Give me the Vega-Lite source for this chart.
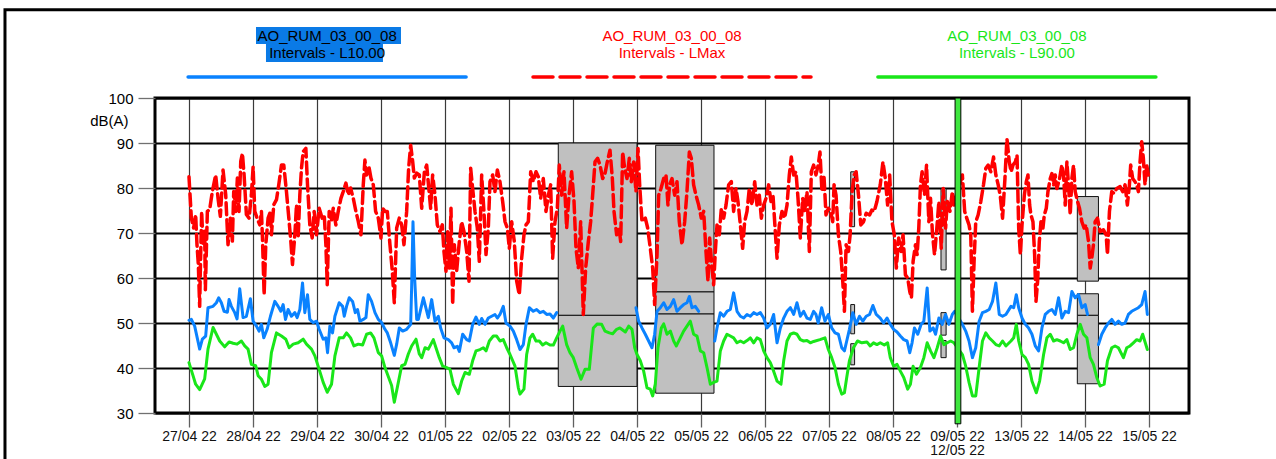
{
"$schema": "https://vega.github.io/schema/vega-lite/v6.json",
"width": 1034, "height": 315,
"autosize": {"type": "none"},
"padding": {"left": 155, "top": 98, "right": 87, "bottom": 46},
"background": "white",
"config": {"view": {"stroke": "black", "strokeWidth": 3}, "font": "Liberation Sans",
"axisX": {
"grid": true, "gridColor": "#3a3a3a", "gridWidth": 1.2, "tickColor": "#606060", "tickWidth": 1.3, "tickSize": 14, "domain": false,
"labelFont": "Liberation Sans", "labelFontSize": 14, "labelColor": "#111111", "labelPadding": 2, "labelLineHeight": 14,
"labelOverlap": false, "labelFlush": false, "labelBound": false},
"axisY": {
"grid": true, "gridColor": "black", "gridWidth": 1.8, "tickCount": 14,
"tickColor": "#707070", "tickWidth": 1.3, "tickSize": 17,
"domain": false, "labelFont": "Liberation Sans", "labelFontSize": 15, "labelColor": "black", "labelPadding": 5,
"labelOverlap": false, "labelFlush": false,
"titleFont": "Liberation Sans", "titleFontSize": 15, "titleFontWeight": "normal", "titleColor": "black",
"titleAngle": 0, "titleAlign": "right", "titleBaseline": "middle", "titleX": -27, "titleY": 22}
},
"datasets": {
"legend": [
{"series": "L10", "name": "AO_RUM_03_00_08", "desc": "Intervals - L10.00"},
{"series": "LMax", "name": "AO_RUM_03_00_08", "desc": "Intervals - LMax"},
{"series": "L90", "name": "AO_RUM_03_00_08", "desc": "Intervals - L90.00"}
],
"boxes": [
{"t0": 5.77, "t1": 7.0, "lo": 51.7, "hi": 90.0},
{"t0": 5.77, "t1": 7.0, "lo": 35.9, "hi": 51.7},
{"t0": 7.292, "t1": 8.203, "lo": 56.9, "hi": 89.5},
{"t0": 7.292, "t1": 8.203, "lo": 52.0, "hi": 56.9},
{"t0": 7.292, "t1": 8.203, "lo": 34.4, "hi": 52.0},
{"t0": 10.34, "t1": 10.40, "lo": 71.4, "hi": 83.6},
{"t0": 10.34, "t1": 10.40, "lo": 47.6, "hi": 54.1},
{"t0": 10.34, "t1": 10.40, "lo": 40.7, "hi": 45.4},
{"t0": 11.75, "t1": 11.83, "lo": 61.8, "hi": 79.9},
{"t0": 11.75, "t1": 11.83, "lo": 47.3, "hi": 52.3},
{"t0": 11.75, "t1": 11.83, "lo": 42.3, "hi": 46.1},
{"t0": 13.88, "t1": 14.21, "lo": 59.3, "hi": 78.1},
{"t0": 13.88, "t1": 14.21, "lo": 51.7, "hi": 56.5},
{"t0": 13.88, "t1": 14.21, "lo": 36.5, "hi": 51.7}
],
"l10": [
{"t":0,"v":50.6,"seg":1},{"t":0.037,"v":50.8,"seg":1},{"t":0.089,"v":49.3,"seg":1},{"t":0.167,"v":44.2,"seg":1},{"t":0.209,"v":46.4,"seg":1},{"t":0.261,"v":47.1,"seg":1},{"t":0.297,"v":53.4,"seg":1},{"t":0.376,"v":53.7,"seg":1},{"t":0.428,"v":54.5,"seg":1},{"t":0.464,"v":55.6,"seg":1},{"t":0.506,"v":54.5,"seg":1},{"t":0.548,"v":52.6,"seg":1},{"t":0.6,"v":52.4,"seg":1},{"t":0.626,"v":55.2,"seg":1},{"t":0.662,"v":53.7,"seg":1},{"t":0.715,"v":52.3,"seg":1},{"t":0.751,"v":50.9,"seg":1},{"t":0.793,"v":57.6,"seg":1},{"t":0.845,"v":51.2,"seg":1},{"t":0.897,"v":51.5,"seg":1},{"t":0.96,"v":55.4,"seg":1},{"t":1.002,"v":50.4,"seg":1},{"t":1.054,"v":49.3,"seg":1},{"t":1.095,"v":48.2,"seg":1},{"t":1.132,"v":49.7,"seg":1},{"t":1.168,"v":46.7,"seg":1},{"t":1.221,"v":48.6,"seg":1},{"t":1.273,"v":51.5,"seg":1},{"t":1.341,"v":54.8,"seg":1},{"t":1.393,"v":53.7,"seg":1},{"t":1.435,"v":52.6,"seg":1},{"t":1.471,"v":54.1,"seg":1},{"t":1.508,"v":50.8,"seg":1},{"t":1.549,"v":53.0,"seg":1},{"t":1.601,"v":51.5,"seg":1},{"t":1.654,"v":52.3,"seg":1},{"t":1.69,"v":51.2,"seg":1},{"t":1.732,"v":53.0,"seg":1},{"t":1.774,"v":58.9,"seg":1},{"t":1.81,"v":52.3,"seg":1},{"t":1.852,"v":56.3,"seg":1},{"t":1.888,"v":50.8,"seg":1},{"t":1.941,"v":50.1,"seg":1},{"t":1.993,"v":50.4,"seg":1},{"t":2.034,"v":48.6,"seg":1},{"t":2.097,"v":46.4,"seg":1},{"t":2.139,"v":46.7,"seg":1},{"t":2.165,"v":43.4,"seg":1},{"t":2.201,"v":49.3,"seg":1},{"t":2.243,"v":47.8,"seg":1},{"t":2.28,"v":51.5,"seg":1},{"t":2.347,"v":54.5,"seg":1},{"t":2.4,"v":53.7,"seg":1},{"t":2.426,"v":51.5,"seg":1},{"t":2.462,"v":53.7,"seg":1},{"t":2.504,"v":55.6,"seg":1},{"t":2.556,"v":54.8,"seg":1},{"t":2.598,"v":52.3,"seg":1},{"t":2.634,"v":53.0,"seg":1},{"t":2.671,"v":50.4,"seg":1},{"t":2.723,"v":50.8,"seg":1},{"t":2.765,"v":51.2,"seg":1},{"t":2.801,"v":56.3,"seg":1},{"t":2.853,"v":54.8,"seg":1},{"t":2.906,"v":52.3,"seg":1},{"t":2.958,"v":50.8,"seg":1},{"t":3.01,"v":50.1,"seg":1},{"t":3.062,"v":48.6,"seg":1},{"t":3.099,"v":47.8,"seg":1},{"t":3.151,"v":45.6,"seg":1},{"t":3.208,"v":42.8,"seg":1},{"t":3.245,"v":45.3,"seg":1},{"t":3.286,"v":48.9,"seg":1},{"t":3.339,"v":48.2,"seg":1},{"t":3.401,"v":48.6,"seg":1},{"t":3.464,"v":49.7,"seg":1},{"t":3.479,"v":58.0,"seg":1},{"t":3.5,"v":72.5,"seg":1},{"t":3.526,"v":60.0,"seg":1},{"t":3.558,"v":50.8,"seg":1},{"t":3.584,"v":50.8,"seg":1},{"t":3.662,"v":55.6,"seg":1},{"t":3.74,"v":51.2,"seg":1},{"t":3.792,"v":55.2,"seg":1},{"t":3.844,"v":50.4,"seg":1},{"t":3.896,"v":51.5,"seg":1},{"t":3.932,"v":48.9,"seg":1},{"t":3.984,"v":46.7,"seg":1},{"t":4.052,"v":46.3,"seg":1},{"t":4.104,"v":45.6,"seg":1},{"t":4.141,"v":44.5,"seg":1},{"t":4.193,"v":44.8,"seg":1},{"t":4.224,"v":43.7,"seg":1},{"t":4.276,"v":47.5,"seg":1},{"t":4.339,"v":46.3,"seg":1},{"t":4.38,"v":46.0,"seg":1},{"t":4.432,"v":49.7,"seg":1},{"t":4.484,"v":51.3,"seg":1},{"t":4.536,"v":49.7,"seg":1},{"t":4.573,"v":51.0,"seg":1},{"t":4.625,"v":49.7,"seg":1},{"t":4.677,"v":51.1,"seg":1},{"t":4.729,"v":51.5,"seg":1},{"t":4.781,"v":51.9,"seg":1},{"t":4.818,"v":51.1,"seg":1},{"t":4.859,"v":51.9,"seg":1},{"t":4.911,"v":53.7,"seg":1},{"t":4.953,"v":50.0,"seg":1},{"t":5.016,"v":49.3,"seg":1},{"t":5.068,"v":48.2,"seg":1},{"t":5.12,"v":46.3,"seg":1},{"t":5.172,"v":44.1,"seg":1},{"t":5.224,"v":45.2,"seg":1},{"t":5.266,"v":49.7,"seg":1},{"t":5.318,"v":53.4,"seg":1},{"t":5.38,"v":52.6,"seg":1},{"t":5.432,"v":53.0,"seg":1},{"t":5.484,"v":52.3,"seg":1},{"t":5.536,"v":52.6,"seg":1},{"t":5.589,"v":51.9,"seg":1},{"t":5.641,"v":52.0,"seg":1},{"t":5.693,"v":51.1,"seg":1},{"t":5.745,"v":52.3,"seg":1},
{"t":6.984,"v":53.4,"seg":2},{"t":7.026,"v":50.4,"seg":2},{"t":7.078,"v":48.9,"seg":2},{"t":7.13,"v":47.5,"seg":2},{"t":7.182,"v":46.0,"seg":2},{"t":7.234,"v":44.5,"seg":2},{"t":7.276,"v":47.5,"seg":2},{"t":7.313,"v":52.6,"seg":2},{"t":7.365,"v":53.4,"seg":2},{"t":7.417,"v":54.5,"seg":2},{"t":7.469,"v":53.0,"seg":2},{"t":7.521,"v":53.7,"seg":2},{"t":7.573,"v":55.2,"seg":2},{"t":7.625,"v":52.6,"seg":2},{"t":7.677,"v":53.4,"seg":2},{"t":7.729,"v":54.1,"seg":2},{"t":7.781,"v":54.5,"seg":2},{"t":7.818,"v":55.9,"seg":2},{"t":7.859,"v":53.4,"seg":2},{"t":7.911,"v":53.7,"seg":2},{"t":7.964,"v":52.6,"seg":2},
{"t":8.214,"v":46.0,"seg":3},{"t":8.25,"v":48.9,"seg":3},{"t":8.302,"v":52.3,"seg":3},{"t":8.354,"v":51.5,"seg":3},{"t":8.406,"v":52.6,"seg":3},{"t":8.458,"v":53.0,"seg":3},{"t":8.51,"v":56.7,"seg":3},{"t":8.563,"v":52.6,"seg":3},{"t":8.615,"v":51.5,"seg":3},{"t":8.667,"v":51.1,"seg":3},{"t":8.719,"v":51.9,"seg":3},{"t":8.771,"v":51.5,"seg":3},{"t":8.823,"v":52.3,"seg":3},{"t":8.875,"v":51.9,"seg":3},{"t":8.927,"v":52.3,"seg":3},{"t":8.979,"v":51.1,"seg":3},{"t":9.031,"v":48.9,"seg":3},{"t":9.083,"v":49.7,"seg":3},{"t":9.135,"v":51.9,"seg":3},{"t":9.188,"v":45.6,"seg":3},{"t":9.24,"v":48.9,"seg":3},{"t":9.292,"v":51.1,"seg":3},{"t":9.344,"v":52.6,"seg":3},{"t":9.396,"v":53.4,"seg":3},{"t":9.448,"v":51.9,"seg":3},{"t":9.5,"v":54.5,"seg":3},{"t":9.552,"v":51.5,"seg":3},{"t":9.604,"v":52.6,"seg":3},{"t":9.656,"v":51.1,"seg":3},{"t":9.708,"v":50.8,"seg":3},{"t":9.76,"v":52.6,"seg":3},{"t":9.796,"v":51.9,"seg":3},{"t":9.832,"v":50.0,"seg":3},{"t":9.885,"v":53.4,"seg":3},{"t":9.937,"v":50.4,"seg":3},{"t":9.99,"v":51.9,"seg":3},{"t":10.042,"v":48.9,"seg":3},{"t":10.094,"v":47.8,"seg":3},{"t":10.147,"v":47.5,"seg":3},{"t":10.199,"v":44.5,"seg":3},{"t":10.241,"v":43.8,"seg":3},{"t":10.277,"v":46.0,"seg":3},{"t":10.319,"v":48.6,"seg":3},{"t":10.372,"v":52.3,"seg":3},{"t":10.424,"v":49.7,"seg":3},{"t":10.476,"v":51.5,"seg":3},{"t":10.529,"v":50.4,"seg":3},{"t":10.581,"v":51.5,"seg":3},{"t":10.634,"v":51.9,"seg":3},{"t":10.686,"v":53.9,"seg":3},{"t":10.738,"v":51.9,"seg":3},{"t":10.801,"v":51.1,"seg":3},{"t":10.853,"v":50.0,"seg":3},{"t":10.906,"v":51.1,"seg":3},{"t":10.958,"v":49.7,"seg":3},{"t":11.01,"v":48.6,"seg":3},{"t":11.063,"v":48.0,"seg":3},{"t":11.115,"v":47.1,"seg":3},{"t":11.168,"v":46.3,"seg":3},{"t":11.22,"v":46.0,"seg":3},{"t":11.262,"v":43.4,"seg":3},{"t":11.298,"v":45.6,"seg":3},{"t":11.335,"v":48.9,"seg":3},{"t":11.387,"v":47.5,"seg":3},{"t":11.44,"v":49.7,"seg":3},{"t":11.482,"v":50.4,"seg":3},{"t":11.534,"v":57.8,"seg":3},{"t":11.576,"v":48.2,"seg":3},{"t":11.628,"v":48.9,"seg":3},{"t":11.665,"v":47.5,"seg":3},{"t":11.717,"v":51.1,"seg":3},{"t":11.77,"v":49.7,"seg":3},{"t":11.822,"v":51.9,"seg":3},{"t":11.874,"v":49.7,"seg":3},{"t":11.927,"v":51.9,"seg":3},{"t":11.963,"v":52.6,"seg":3},{"t":12.084,"v":49.7,"seg":3},{"t":12.136,"v":48.2,"seg":3},{"t":12.188,"v":46.0,"seg":3},{"t":12.241,"v":42.3,"seg":3},{"t":12.293,"v":44.5,"seg":3},{"t":12.346,"v":50.4,"seg":3},{"t":12.398,"v":52.3,"seg":3},{"t":12.45,"v":52.6,"seg":3},{"t":12.503,"v":53.0,"seg":3},{"t":12.555,"v":54.8,"seg":3},{"t":12.607,"v":58.9,"seg":3},{"t":12.66,"v":51.9,"seg":3},{"t":12.712,"v":51.5,"seg":3},{"t":12.764,"v":51.9,"seg":3},{"t":12.843,"v":53.7,"seg":3},{"t":12.886,"v":53.4,"seg":3},{"t":12.927,"v":56.3,"seg":3},{"t":12.964,"v":53.4,"seg":3},{"t":13.016,"v":51.1,"seg":3},{"t":13.068,"v":49.7,"seg":3},{"t":13.119,"v":48.9,"seg":3},{"t":13.171,"v":47.5,"seg":3},{"t":13.223,"v":44.9,"seg":3},{"t":13.275,"v":43.8,"seg":3},{"t":13.327,"v":48.9,"seg":3},{"t":13.379,"v":51.9,"seg":3},{"t":13.431,"v":52.6,"seg":3},{"t":13.483,"v":53.0,"seg":3},{"t":13.535,"v":51.9,"seg":3},{"t":13.587,"v":55.6,"seg":3},{"t":13.639,"v":51.1,"seg":3},{"t":13.691,"v":52.6,"seg":3},{"t":13.743,"v":52.3,"seg":3},{"t":13.795,"v":57.0,"seg":3},{"t":13.847,"v":55.6,"seg":3},{"t":13.899,"v":56.3,"seg":3},{"t":13.951,"v":53.4,"seg":3},{"t":14.003,"v":54.1,"seg":3},{"t":14.039,"v":51.9,"seg":3},
{"t":14.21,"v":45.2,"seg":4},{"t":14.262,"v":47.5,"seg":4},{"t":14.314,"v":48.9,"seg":4},{"t":14.366,"v":50.0,"seg":4},{"t":14.418,"v":50.8,"seg":4},{"t":14.47,"v":49.7,"seg":4},{"t":14.522,"v":50.4,"seg":4},{"t":14.574,"v":49.7,"seg":4},{"t":14.626,"v":50.0,"seg":4},{"t":14.678,"v":51.9,"seg":4},{"t":14.73,"v":52.6,"seg":4},{"t":14.782,"v":53.0,"seg":4},{"t":14.834,"v":53.4,"seg":4},{"t":14.886,"v":54.1,"seg":4},{"t":14.938,"v":57.0,"seg":4},{"t":14.974,"v":51.9,"seg":4}
],
"l90": [
{"t":0,"v":41.2},{"t":0.063,"v":38.3},{"t":0.104,"v":36.4},{"t":0.167,"v":35.2},{"t":0.245,"v":37.6},{"t":0.297,"v":44.2},{"t":0.376,"v":49.0},{"t":0.428,"v":47.5},{"t":0.48,"v":46.0},{"t":0.558,"v":44.7},{"t":0.626,"v":45.8},{"t":0.689,"v":45.5},{"t":0.751,"v":45.3},{"t":0.819,"v":46.0},{"t":0.871,"v":44.9},{"t":0.923,"v":44.2},{"t":0.975,"v":40.8},{"t":1.043,"v":40.5},{"t":1.08,"v":38.3},{"t":1.132,"v":37.5},{"t":1.184,"v":35.9},{"t":1.236,"v":36.4},{"t":1.288,"v":43.4},{"t":1.367,"v":47.8},{"t":1.445,"v":47.1},{"t":1.513,"v":46.4},{"t":1.565,"v":44.5},{"t":1.628,"v":45.3},{"t":1.706,"v":45.6},{"t":1.784,"v":46.4},{"t":1.836,"v":45.3},{"t":1.914,"v":44.2},{"t":1.967,"v":42.7},{"t":2.034,"v":39.7},{"t":2.097,"v":36.8},{"t":2.16,"v":34.6},{"t":2.227,"v":36.4},{"t":2.28,"v":42.7},{"t":2.347,"v":46.7},{"t":2.41,"v":46.7},{"t":2.462,"v":47.8},{"t":2.525,"v":46.7},{"t":2.577,"v":44.9},{"t":2.645,"v":45.3},{"t":2.713,"v":45.1},{"t":2.775,"v":47.5},{"t":2.838,"v":47.8},{"t":2.89,"v":46.7},{"t":2.958,"v":43.4},{"t":3.01,"v":42.7},{"t":3.062,"v":40.1},{"t":3.13,"v":37.5},{"t":3.166,"v":36.1},{"t":3.208,"v":32.4},{"t":3.271,"v":36.8},{"t":3.323,"v":40.5},{"t":3.375,"v":40.8},{"t":3.427,"v":43.1},{"t":3.479,"v":44.9},{"t":3.547,"v":46.4},{"t":3.599,"v":43.1},{"t":3.636,"v":42.3},{"t":3.688,"v":44.5},{"t":3.74,"v":44.2},{"t":3.818,"v":46.3},{"t":3.859,"v":44.5},{"t":3.911,"v":42.3},{"t":3.964,"v":40.4},{"t":4.026,"v":40.1},{"t":4.078,"v":39.7},{"t":4.13,"v":36.4},{"t":4.208,"v":34.3},{"t":4.26,"v":37.1},{"t":4.313,"v":39.0},{"t":4.38,"v":38.6},{"t":4.432,"v":41.6},{"t":4.484,"v":43.8},{"t":4.547,"v":44.1},{"t":4.599,"v":44.5},{"t":4.641,"v":43.8},{"t":4.693,"v":46.0},{"t":4.755,"v":47.1},{"t":4.807,"v":47.1},{"t":4.859,"v":46.0},{"t":4.911,"v":46.3},{"t":4.964,"v":44.5},{"t":5.016,"v":43.0},{"t":5.094,"v":40.4},{"t":5.146,"v":35.6},{"t":5.172,"v":34.2},{"t":5.234,"v":35.3},{"t":5.276,"v":43.0},{"t":5.328,"v":46.7},{"t":5.37,"v":47.5},{"t":5.422,"v":46.0},{"t":5.474,"v":46.0},{"t":5.526,"v":45.1},{"t":5.578,"v":45.6},{"t":5.641,"v":45.1},{"t":5.693,"v":45.1},{"t":5.745,"v":46.7},{"t":5.797,"v":48.2},{"t":5.839,"v":49.3},{"t":5.901,"v":45.2},{"t":5.953,"v":43.4},{"t":6.005,"v":42.3},{"t":6.057,"v":40.1},{"t":6.125,"v":37.5},{"t":6.188,"v":39.7},{"t":6.255,"v":39.7},{"t":6.318,"v":48.9},{"t":6.38,"v":49.8},{"t":6.448,"v":49.7},{"t":6.5,"v":48.2},{"t":6.568,"v":47.8},{"t":6.62,"v":47.6},{"t":6.682,"v":48.6},{"t":6.734,"v":48.9},{"t":6.818,"v":48.0},{"t":6.87,"v":49.3},{"t":6.922,"v":48.6},{"t":6.964,"v":44.5},{"t":7.0,"v":43.0},{"t":7.052,"v":41.6},{"t":7.104,"v":39.3},{"t":7.156,"v":35.6},{"t":7.208,"v":35.3},{"t":7.245,"v":33.8},{"t":7.286,"v":36.4},{"t":7.328,"v":44.5},{"t":7.38,"v":48.9},{"t":7.417,"v":49.8},{"t":7.469,"v":47.5},{"t":7.521,"v":48.2},{"t":7.573,"v":46.0},{"t":7.615,"v":44.9},{"t":7.677,"v":46.7},{"t":7.729,"v":48.2},{"t":7.781,"v":49.3},{"t":7.833,"v":50.4},{"t":7.885,"v":47.5},{"t":7.938,"v":47.1},{"t":7.99,"v":43.8},{"t":8.042,"v":43.4},{"t":8.094,"v":40.1},{"t":8.146,"v":36.4},{"t":8.198,"v":36.8},{"t":8.25,"v":37.1},{"t":8.302,"v":43.8},{"t":8.354,"v":46.0},{"t":8.406,"v":47.5},{"t":8.458,"v":47.1},{"t":8.51,"v":46.7},{"t":8.563,"v":45.6},{"t":8.615,"v":46.0},{"t":8.667,"v":45.6},{"t":8.719,"v":46.1},{"t":8.771,"v":46.7},{"t":8.823,"v":45.6},{"t":8.875,"v":46.7},{"t":8.927,"v":46.3},{"t":8.979,"v":43.8},{"t":9.031,"v":42.3},{"t":9.083,"v":41.2},{"t":9.135,"v":39.3},{"t":9.188,"v":37.1},{"t":9.25,"v":36.4},{"t":9.292,"v":41.6},{"t":9.344,"v":46.0},{"t":9.396,"v":47.5},{"t":9.448,"v":47.8},{"t":9.5,"v":47.5},{"t":9.552,"v":46.3},{"t":9.604,"v":46.0},{"t":9.656,"v":46.1},{"t":9.708,"v":45.6},{"t":9.76,"v":45.9},{"t":9.859,"v":46.3},{"t":9.937,"v":46.7},{"t":9.99,"v":44.1},{"t":10.042,"v":42.3},{"t":10.094,"v":40.1},{"t":10.147,"v":36.4},{"t":10.199,"v":34.2},{"t":10.241,"v":34.5},{"t":10.277,"v":37.9},{"t":10.319,"v":41.6},{"t":10.382,"v":44.5},{"t":10.445,"v":46.0},{"t":10.513,"v":45.6},{"t":10.592,"v":45.8},{"t":10.644,"v":44.9},{"t":10.696,"v":45.6},{"t":10.749,"v":45.2},{"t":10.801,"v":45.6},{"t":10.864,"v":45.1},{"t":10.916,"v":45.6},{"t":10.958,"v":42.3},{"t":11.01,"v":40.4},{"t":11.063,"v":40.8},{"t":11.115,"v":39.3},{"t":11.168,"v":37.9},{"t":11.23,"v":35.3},{"t":11.272,"v":36.4},{"t":11.314,"v":40.4},{"t":11.366,"v":38.6},{"t":11.429,"v":40.1},{"t":11.482,"v":42.3},{"t":11.534,"v":45.6},{"t":11.586,"v":43.8},{"t":11.639,"v":42.3},{"t":11.691,"v":44.5},{"t":11.743,"v":47.1},{"t":11.796,"v":45.2},{"t":11.848,"v":45.6},{"t":11.901,"v":46.0},{"t":11.953,"v":45.6},{"t":12.084,"v":43.0},{"t":12.136,"v":40.4},{"t":12.188,"v":36.8},{"t":12.241,"v":33.8},{"t":12.293,"v":33.8},{"t":12.346,"v":40.1},{"t":12.398,"v":46.0},{"t":12.45,"v":47.8},{"t":12.503,"v":46.7},{"t":12.555,"v":46.0},{"t":12.607,"v":45.2},{"t":12.66,"v":44.9},{"t":12.712,"v":46.0},{"t":12.764,"v":44.9},{"t":12.843,"v":46.0},{"t":12.886,"v":46.7},{"t":12.927,"v":49.7},{"t":12.964,"v":46.0},{"t":13.016,"v":43.0},{"t":13.068,"v":42.3},{"t":13.119,"v":40.8},{"t":13.171,"v":37.1},{"t":13.239,"v":34.5},{"t":13.291,"v":37.1},{"t":13.353,"v":43.0},{"t":13.405,"v":46.7},{"t":13.457,"v":47.5},{"t":13.509,"v":46.0},{"t":13.561,"v":46.3},{"t":13.613,"v":46.0},{"t":13.665,"v":45.6},{"t":13.717,"v":46.3},{"t":13.769,"v":44.1},{"t":13.821,"v":44.5},{"t":13.873,"v":47.5},{"t":13.925,"v":49.7},{"t":13.977,"v":47.5},{"t":14.029,"v":46.7},{"t":14.081,"v":42.3},{"t":14.132,"v":40.8},{"t":14.184,"v":37.9},{"t":14.236,"v":36.0},{"t":14.299,"v":36.4},{"t":14.351,"v":41.6},{"t":14.418,"v":44.5},{"t":14.47,"v":44.9},{"t":14.522,"v":44.5},{"t":14.6,"v":42.3},{"t":14.652,"v":44.5},{"t":14.704,"v":44.9},{"t":14.756,"v":45.6},{"t":14.808,"v":46.3},{"t":14.86,"v":46.0},{"t":14.901,"v":47.5},{"t":14.974,"v":44.1}
],
"lmax": [
{"t":0,"v":82.5},{"t":0.037,"v":73.3},{"t":0.073,"v":71.1},{"t":0.104,"v":74.1},{"t":0.125,"v":67.4},{"t":0.146,"v":63.0},{"t":0.167,"v":53.7},{"t":0.177,"v":61.5},{"t":0.198,"v":74.8},{"t":0.219,"v":67.4},{"t":0.245,"v":70.4},{"t":0.256,"v":57.4},{"t":0.287,"v":74.8},{"t":0.323,"v":75.2},{"t":0.365,"v":79.2},{"t":0.417,"v":82.9},{"t":0.454,"v":77.7},{"t":0.49,"v":73.7},{"t":0.532,"v":84.0},{"t":0.574,"v":78.5},{"t":0.61,"v":67.4},{"t":0.647,"v":73.3},{"t":0.678,"v":68.2},{"t":0.699,"v":79.2},{"t":0.73,"v":74.8},{"t":0.756,"v":82.2},{"t":0.782,"v":74.8},{"t":0.809,"v":85.9},{"t":0.835,"v":87.7},{"t":0.861,"v":82.9},{"t":0.897,"v":74.1},{"t":0.939,"v":73.3},{"t":0.975,"v":78.5},{"t":1.002,"v":84.7},{"t":1.028,"v":74.8},{"t":1.064,"v":73.3},{"t":1.106,"v":71.8},{"t":1.132,"v":74.8},{"t":1.148,"v":68.9},{"t":1.174,"v":56.3},{"t":1.2,"v":67.4},{"t":1.236,"v":73.3},{"t":1.273,"v":74.8},{"t":1.288,"v":69.6},{"t":1.325,"v":76.3},{"t":1.367,"v":77.4},{"t":1.403,"v":80.7},{"t":1.445,"v":85.1},{"t":1.481,"v":85.1},{"t":1.523,"v":79.2},{"t":1.56,"v":73.3},{"t":1.591,"v":68.2},{"t":1.617,"v":63.0},{"t":1.654,"v":69.6},{"t":1.68,"v":76.3},{"t":1.706,"v":68.9},{"t":1.732,"v":78.5},{"t":1.758,"v":84.4},{"t":1.784,"v":88.1},{"t":1.826,"v":88.8},{"t":1.852,"v":80.7},{"t":1.888,"v":71.8},{"t":1.925,"v":68.9},{"t":1.956,"v":74.8},{"t":1.993,"v":69.6},{"t":2.034,"v":75.5},{"t":2.081,"v":73.3},{"t":2.113,"v":74.1},{"t":2.139,"v":67.4},{"t":2.16,"v":58.5},{"t":2.191,"v":74.8},{"t":2.227,"v":72.6},{"t":2.254,"v":75.5},{"t":2.295,"v":71.8},{"t":2.332,"v":74.8},{"t":2.374,"v":77.7},{"t":2.41,"v":79.2},{"t":2.452,"v":81.1},{"t":2.488,"v":78.5},{"t":2.525,"v":80.0},{"t":2.567,"v":77.7},{"t":2.608,"v":74.8},{"t":2.645,"v":72.6},{"t":2.687,"v":69.6},{"t":2.723,"v":80.7},{"t":2.749,"v":86.2},{"t":2.775,"v":82.9},{"t":2.812,"v":84.7},{"t":2.843,"v":82.2},{"t":2.88,"v":80.7},{"t":2.916,"v":74.8},{"t":2.958,"v":73.3},{"t":3.0,"v":68.9},{"t":3.026,"v":75.5},{"t":3.062,"v":74.8},{"t":3.099,"v":74.8},{"t":3.14,"v":67.4},{"t":3.177,"v":61.5},{"t":3.208,"v":54.5},{"t":3.245,"v":71.1},{"t":3.286,"v":73.3},{"t":3.323,"v":71.8},{"t":3.359,"v":67.4},{"t":3.401,"v":74.8},{"t":3.432,"v":84.4},{"t":3.464,"v":89.5},{"t":3.495,"v":85.9},{"t":3.521,"v":82.2},{"t":3.558,"v":83.3},{"t":3.599,"v":82.9},{"t":3.636,"v":75.5},{"t":3.678,"v":83.6},{"t":3.714,"v":85.1},{"t":3.756,"v":78.5},{"t":3.776,"v":75.5},{"t":3.807,"v":82.9},{"t":3.844,"v":78.4},{"t":3.88,"v":71.8},{"t":3.922,"v":70.3},{"t":3.958,"v":71.8},{"t":3.984,"v":65.9},{"t":4.016,"v":61.5},{"t":4.042,"v":70.3},{"t":4.068,"v":62.2},{"t":4.094,"v":75.5},{"t":4.12,"v":54.1},{"t":4.146,"v":67.4},{"t":4.182,"v":61.5},{"t":4.224,"v":68.1},{"t":4.26,"v":72.5},{"t":4.297,"v":70.3},{"t":4.339,"v":65.9},{"t":4.375,"v":59.3},{"t":4.401,"v":84.4},{"t":4.432,"v":79.9},{"t":4.469,"v":74.8},{"t":4.505,"v":71.1},{"t":4.536,"v":63.7},{"t":4.573,"v":82.9},{"t":4.609,"v":74.8},{"t":4.641,"v":65.2},{"t":4.677,"v":71.1},{"t":4.703,"v":81.4},{"t":4.745,"v":82.9},{"t":4.781,"v":79.2},{"t":4.818,"v":84.0},{"t":4.859,"v":81.4},{"t":4.901,"v":77.0},{"t":4.938,"v":72.5},{"t":4.974,"v":71.1},{"t":5.005,"v":66.6},{"t":5.042,"v":72.5},{"t":5.083,"v":68.1},{"t":5.12,"v":59.3},{"t":5.161,"v":56.3},{"t":5.198,"v":64.4},{"t":5.234,"v":69.6},{"t":5.266,"v":71.8},{"t":5.302,"v":72.5},{"t":5.339,"v":83.6},{"t":5.38,"v":81.4},{"t":5.422,"v":83.6},{"t":5.458,"v":82.5},{"t":5.495,"v":77.7},{"t":5.536,"v":82.1},{"t":5.578,"v":74.8},{"t":5.615,"v":78.4},{"t":5.651,"v":80.7},{"t":5.682,"v":64.4},{"t":5.719,"v":72.5},{"t":5.755,"v":75.5},{"t":5.786,"v":85.1},{"t":5.823,"v":78.4},{"t":5.859,"v":83.6},{"t":5.901,"v":71.1},{"t":5.938,"v":78.4},{"t":5.979,"v":83.6},{"t":6.016,"v":77.0},{"t":6.047,"v":66.6},{"t":6.083,"v":62.2},{"t":6.12,"v":72.5},{"t":6.161,"v":51.9},{"t":6.198,"v":62.2},{"t":6.24,"v":68.1},{"t":6.276,"v":72.5},{"t":6.307,"v":78.4},{"t":6.344,"v":85.8},{"t":6.385,"v":86.6},{"t":6.422,"v":85.1},{"t":6.464,"v":82.1},{"t":6.5,"v":83.2},{"t":6.536,"v":85.8},{"t":6.578,"v":88.4},{"t":6.615,"v":82.1},{"t":6.641,"v":74.8},{"t":6.682,"v":69.6},{"t":6.72,"v":71.1},{"t":6.745,"v":68.1},{"t":6.776,"v":88.0},{"t":6.807,"v":84.4},{"t":6.844,"v":82.1},{"t":6.88,"v":86.6},{"t":6.911,"v":81.4},{"t":6.948,"v":85.8},{"t":6.984,"v":79.2},{"t":7.016,"v":88.8},{"t":7.042,"v":80.7},{"t":7.078,"v":72.5},{"t":7.13,"v":73.3},{"t":7.167,"v":71.1},{"t":7.208,"v":66.6},{"t":7.245,"v":62.2},{"t":7.276,"v":54.1},{"t":7.313,"v":65.2},{"t":7.339,"v":78.4},{"t":7.375,"v":79.9},{"t":7.417,"v":82.1},{"t":7.453,"v":82.9},{"t":7.484,"v":76.2},{"t":7.51,"v":80.7},{"t":7.547,"v":82.1},{"t":7.589,"v":78.4},{"t":7.625,"v":81.4},{"t":7.661,"v":72.5},{"t":7.703,"v":67.4},{"t":7.745,"v":72.5},{"t":7.781,"v":79.2},{"t":7.818,"v":88.0},{"t":7.849,"v":86.6},{"t":7.885,"v":80.7},{"t":7.922,"v":78.4},{"t":7.964,"v":76.2},{"t":8.005,"v":73.3},{"t":8.042,"v":74.8},{"t":8.078,"v":65.9},{"t":8.109,"v":59.3},{"t":8.135,"v":68.9},{"t":8.172,"v":62.2},{"t":8.198,"v":58.5},{"t":8.224,"v":65.9},{"t":8.25,"v":71.8},{"t":8.286,"v":69.6},{"t":8.318,"v":75.5},{"t":8.354,"v":73.3},{"t":8.391,"v":76.2},{"t":8.432,"v":80.7},{"t":8.474,"v":81.4},{"t":8.51,"v":74.8},{"t":8.547,"v":79.9},{"t":8.578,"v":77.0},{"t":8.615,"v":71.8},{"t":8.651,"v":66.6},{"t":8.682,"v":72.5},{"t":8.719,"v":74.8},{"t":8.755,"v":79.9},{"t":8.797,"v":76.2},{"t":8.839,"v":81.4},{"t":8.875,"v":76.2},{"t":8.911,"v":78.4},{"t":8.943,"v":73.3},{"t":8.979,"v":76.2},{"t":9.016,"v":77.7},{"t":9.057,"v":80.7},{"t":9.094,"v":77.0},{"t":9.125,"v":78.4},{"t":9.161,"v":70.3},{"t":9.188,"v":64.4},{"t":9.224,"v":71.8},{"t":9.266,"v":74.8},{"t":9.307,"v":73.3},{"t":9.344,"v":76.2},{"t":9.38,"v":82.9},{"t":9.411,"v":86.9},{"t":9.448,"v":82.9},{"t":9.484,"v":83.6},{"t":9.516,"v":77.7},{"t":9.552,"v":68.9},{"t":9.589,"v":77.7},{"t":9.62,"v":74.8},{"t":9.656,"v":79.2},{"t":9.693,"v":65.9},{"t":9.724,"v":83.6},{"t":9.76,"v":85.1},{"t":9.796,"v":82.9},{"t":9.832,"v":85.1},{"t":9.859,"v":88.0},{"t":9.89,"v":79.2},{"t":9.921,"v":82.9},{"t":9.953,"v":74.0},{"t":9.99,"v":75.5},{"t":10.026,"v":74.8},{"t":10.058,"v":72.5},{"t":10.079,"v":80.7},{"t":10.11,"v":78.4},{"t":10.147,"v":69.6},{"t":10.183,"v":65.9},{"t":10.215,"v":59.3},{"t":10.241,"v":52.6},{"t":10.267,"v":67.4},{"t":10.304,"v":65.9},{"t":10.33,"v":69.6},{"t":10.361,"v":79.2},{"t":10.393,"v":82.9},{"t":10.424,"v":83.6},{"t":10.461,"v":78.4},{"t":10.497,"v":71.8},{"t":10.539,"v":72.5},{"t":10.581,"v":74.4},{"t":10.634,"v":74.0},{"t":10.67,"v":75.1},{"t":10.707,"v":74.8},{"t":10.749,"v":77.0},{"t":10.801,"v":80.7},{"t":10.843,"v":85.8},{"t":10.88,"v":82.1},{"t":10.916,"v":76.2},{"t":10.948,"v":82.9},{"t":10.984,"v":72.5},{"t":11.021,"v":69.6},{"t":11.052,"v":62.2},{"t":11.089,"v":68.9},{"t":11.126,"v":65.9},{"t":11.157,"v":69.6},{"t":11.194,"v":60.7},{"t":11.23,"v":60.0},{"t":11.262,"v":57.0},{"t":11.288,"v":55.6},{"t":11.314,"v":63.7},{"t":11.351,"v":67.4},{"t":11.377,"v":65.2},{"t":11.403,"v":71.1},{"t":11.429,"v":80.7},{"t":11.455,"v":83.6},{"t":11.492,"v":78.4},{"t":11.524,"v":85.1},{"t":11.56,"v":72.5},{"t":11.586,"v":77.7},{"t":11.618,"v":69.6},{"t":11.649,"v":65.2},{"t":11.681,"v":70.3},{"t":11.717,"v":77.0},{"t":11.754,"v":66.6},{"t":11.785,"v":79.9},{"t":11.822,"v":71.1},{"t":11.848,"v":77.0},{"t":11.89,"v":74.8},{"t":11.927,"v":79.2},{"t":11.953,"v":76.2},{"t":12.084,"v":82.9},{"t":12.12,"v":74.8},{"t":12.152,"v":73.3},{"t":12.188,"v":71.8},{"t":12.215,"v":69.6},{"t":12.241,"v":52.6},{"t":12.267,"v":63.7},{"t":12.293,"v":72.5},{"t":12.33,"v":74.0},{"t":12.372,"v":77.0},{"t":12.414,"v":80.7},{"t":12.45,"v":84.4},{"t":12.487,"v":85.1},{"t":12.529,"v":83.6},{"t":12.571,"v":86.9},{"t":12.607,"v":82.9},{"t":12.644,"v":80.7},{"t":12.675,"v":78.4},{"t":12.712,"v":73.3},{"t":12.749,"v":82.1},{"t":12.78,"v":91.0},{"t":12.817,"v":85.8},{"t":12.845,"v":83.6},{"t":12.875,"v":85.1},{"t":12.912,"v":85.8},{"t":12.938,"v":87.3},{"t":12.964,"v":71.1},{"t":12.99,"v":65.2},{"t":13.016,"v":71.8},{"t":13.052,"v":78.4},{"t":13.083,"v":81.4},{"t":13.109,"v":82.9},{"t":13.135,"v":76.2},{"t":13.156,"v":74.0},{"t":13.187,"v":72.5},{"t":13.213,"v":65.2},{"t":13.234,"v":54.8},{"t":13.26,"v":59.3},{"t":13.286,"v":68.1},{"t":13.312,"v":72.5},{"t":13.343,"v":71.1},{"t":13.364,"v":74.0},{"t":13.395,"v":75.5},{"t":13.421,"v":79.2},{"t":13.457,"v":82.1},{"t":13.483,"v":83.2},{"t":13.509,"v":80.7},{"t":13.535,"v":82.9},{"t":13.561,"v":79.9},{"t":13.603,"v":82.1},{"t":13.639,"v":85.1},{"t":13.665,"v":82.9},{"t":13.691,"v":76.2},{"t":13.717,"v":85.8},{"t":13.743,"v":80.7},{"t":13.769,"v":74.0},{"t":13.795,"v":82.1},{"t":13.821,"v":85.1},{"t":13.847,"v":79.2},{"t":13.883,"v":77.0},{"t":13.914,"v":75.5},{"t":13.951,"v":72.5},{"t":13.987,"v":71.1},{"t":14.018,"v":71.8},{"t":14.055,"v":68.1},{"t":14.081,"v":62.2},{"t":14.106,"v":64.4},{"t":14.132,"v":67.4},{"t":14.158,"v":72.5},{"t":14.195,"v":73.3},{"t":14.236,"v":70.3},{"t":14.288,"v":70.7},{"t":14.33,"v":69.6},{"t":14.351,"v":65.2},{"t":14.382,"v":74.8},{"t":14.418,"v":79.2},{"t":14.455,"v":78.8},{"t":14.496,"v":79.9},{"t":14.548,"v":80.3},{"t":14.59,"v":79.2},{"t":14.626,"v":80.7},{"t":14.662,"v":76.2},{"t":14.694,"v":80.7},{"t":14.714,"v":85.1},{"t":14.745,"v":82.1},{"t":14.782,"v":81.4},{"t":14.808,"v":80.7},{"t":14.834,"v":79.2},{"t":14.86,"v":85.8},{"t":14.886,"v":90.3},{"t":14.912,"v":86.6},{"t":14.938,"v":80.7},{"t":14.964,"v":85.1},{"t":14.99,"v":82.9}
]
},
"layer": [
{
"layer": [
{
"data": {"values": [{}]},
"mark": {"type": "rect", "filled": false, "stroke": "black", "strokeWidth": 3},
"encoding": {
"x": {"datum": -2.875, "type": "quantitative", "scale": {"domain": [-0.531, 15.625], "nice": false, "zero": false},
"axis": {"values": [0,1,2,3,4,5,6,7,8,9,10,11,12,13,14,15], "title": null,
"labelExpr": "['27/04 22','28/04 22','29/04 22','30/04 22','01/05 22','02/05 22','03/05 22','04/05 22','05/05 22','06/05 22','07/05 22','08/05 22',['09/05 22','12/05 22'],'13/05 22','14/05 22','15/05 22'][datum.value]"}},
"x2": {"datum": 30},
"y": {"datum": 119.6, "type": "quantitative", "scale": {"domain": [30, 100], "nice": false, "zero": false},
"axis": {"values": [30,35,40,45,50,55,60,65,70,75,80,85,90,95,100], "tickCount": 14, "title": "dB(A)",
"tickOpacity": {"condition": {"test": "datum.value % 10 === 0", "value": 1}, "value": 0},
"labelExpr": "datum.value % 10 === 0 ? datum.label : ''"}},
"y2": {"datum": 0}
}
},
{
"data": {"values": [{}]},
"mark": {"type": "rect", "fill": "#0a7ae6"},
"encoding": {
"x": {"datum": 1.047, "type": "quantitative"},
"x2": {"datum": 3.3125},
"y": {"datum": 115.8, "type": "quantitative"},
"y2": {"datum": 112.0}
}
},
{
"data": {"values": [{}]},
"mark": {"type": "rect", "fill": "#0a7ae6"},
"encoding": {
"x": {"datum": 1.203, "type": "quantitative"},
"x2": {"datum": 3.031},
"y": {"datum": 112.0, "type": "quantitative"},
"y2": {"datum": 108.0}
}
},
{
"data": {"name": "boxes"},
"mark": {"type": "rect", "fill": "#c0c0c0", "stroke": "#111111", "strokeWidth": 1},
"encoding": {
"x": {"field": "t0", "type": "quantitative"},
"x2": {"field": "t1"},
"y": {"field": "lo", "type": "quantitative"},
"y2": {"field": "hi"}
}
},
{
"data": {"name": "l10"},
"mark": {"type": "line", "color": "#0a82ff", "strokeWidth": 3, "strokeJoin": "round", "strokeCap": "round"},
"encoding": {
"x": {"field": "t", "type": "quantitative"},
"y": {"field": "v", "type": "quantitative",
"axis": {"values": [30,35,40,45,50,55,60,65,70,75,80,85,90,95,100], "tickCount": 14, "title": "dB(A)",
"tickOpacity": {"condition": {"test": "datum.value % 10 === 0", "value": 1}, "value": 0},
"labelExpr": "datum.value % 10 === 0 ? datum.label : ''"}},
"detail": {"field": "seg", "type": "nominal"}
}
},
{
"data": {"name": "lmax"},
"mark": {"type": "line", "color": "#ff0000", "strokeWidth": 3.5, "strokeJoin": "round", "strokeCap": "round", "strokeDash": [12, 5]},
"encoding": {
"x": {"field": "t", "type": "quantitative"},
"y": {"field": "v", "type": "quantitative"}
}
},
{
"data": {"name": "l90"},
"mark": {"type": "line", "color": "#19e619", "strokeWidth": 3, "strokeJoin": "round", "strokeCap": "round"},
"encoding": {
"x": {"field": "t", "type": "quantitative"},
"y": {"field": "v", "type": "quantitative"}
}
},
{
"data": {"values": [{}]},
"mark": {"type": "rect", "fill": "#3ee63e", "stroke": "black", "strokeWidth": 1},
"encoding": {
"x": {"datum": 11.97, "type": "quantitative"},
"x2": {"datum": 12.06},
"y": {"datum": 100, "type": "quantitative"},
"y2": {"datum": 27.6}
}
}
]
},
{
"data": {"name": "legend"},
"encoding": {
"x": {"field": "series", "type": "nominal", "scale": {"type": "band", "domain": ["L10", "LMax", "L90"], "paddingInner": 0.194, "paddingOuter": 0.096}, "axis": null}
},
"layer": [
{
"mark": {"type": "rule", "strokeWidth": 3.5, "strokeCap": "round", "xOffset": -139, "x2Offset": 139},
"encoding": {
"x2": {"field": "series"},
"y": {"datum": 104.67, "type": "quantitative", "scale": {"domain": [30, 100], "nice": false, "zero": false}, "axis": null},
"color": {"condition": [{"test": "datum.series === 'LMax'", "value": "#ff0000"}, {"test": "datum.series === 'L90'", "value": "#19e619"}], "value": "#0a82ff"},
"strokeDash": {"condition": {"test": "datum.series === 'LMax'", "value": [20, 7]}, "value": [1, 0]}
}
},
{
"mark": {"type": "text", "fontSize": 15, "font": "Liberation Sans", "baseline": "middle", "align": "center"},
"encoding": {
"y": {"datum": 113.8, "type": "quantitative", "scale": {"domain": [30, 100], "nice": false, "zero": false}, "axis": null},
"text": {"field": "name"},
"color": {"condition": [{"test": "datum.series === 'LMax'", "value": "#ff0000"}, {"test": "datum.series === 'L90'", "value": "#19e619"}], "value": "black"}
}
},
{
"mark": {"type": "text", "fontSize": 15, "font": "Liberation Sans", "baseline": "middle", "align": "center"},
"encoding": {
"y": {"datum": 110.0, "type": "quantitative", "scale": {"domain": [30, 100], "nice": false, "zero": false}, "axis": null},
"text": {"field": "desc"},
"color": {"condition": [{"test": "datum.series === 'LMax'", "value": "#ff0000"}, {"test": "datum.series === 'L90'", "value": "#19e619"}], "value": "black"}
}
}
]
}
],
"resolve": {"scale": {"x": "independent", "y": "independent"}}
}
